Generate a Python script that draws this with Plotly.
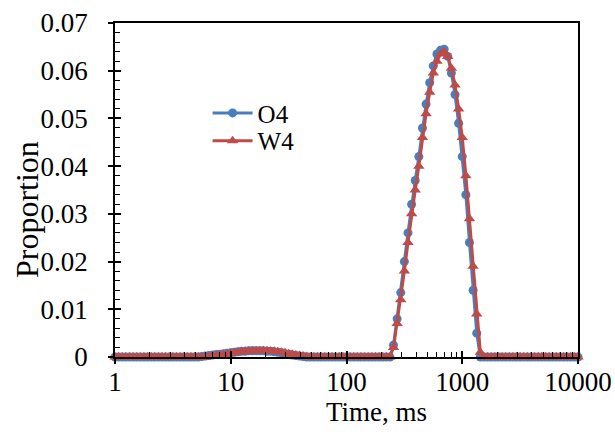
import plotly.graph_objects as go

# Time grid (ms), log-spaced
time_ms = [
    1, 1.075, 1.155, 1.241, 1.334, 1.433, 1.540, 1.655, 1.778, 1.911, 2.054, 2.207, 2.371, 2.548, 2.738, 2.943,
    3.162, 3.398, 3.652, 3.924, 4.217, 4.532, 4.870, 5.233, 5.623, 6.043, 6.494, 6.978, 7.499, 8.058, 8.660, 9.306,
    10, 10.75, 11.55, 12.41, 13.34, 14.33, 15.40, 16.55, 17.78, 19.11, 20.54, 22.07, 23.71, 25.48, 27.38, 29.43,
    31.62, 33.98, 36.52, 39.24, 42.17, 45.32, 48.70, 52.33, 56.23, 60.43, 64.94, 69.78, 74.99, 80.58, 86.60, 93.06,
    100, 107.5, 115.5, 124.1, 133.4, 143.3, 154.0, 165.5, 177.8, 191.1, 205.4, 220.7, 237.1, 254.8, 273.8, 294.3,
    316.2, 339.8, 365.2, 392.4, 421.7, 453.2, 487.0, 523.3, 562.3, 604.3, 649.4, 697.8, 749.9, 805.8, 866.0, 930.6,
    1000, 1075, 1155, 1241, 1334, 1433, 1540, 1655, 1778, 1911, 2054, 2207, 2371, 2548, 2738, 2943,
    3162, 3398, 3652, 3924, 4217, 4532, 4870, 5233, 5623, 6043, 6494, 6978, 7499, 8058, 8660, 9306,
    10000,
]

o4 = [
    0, 0, 0, 0, 0, 0, 0, 0, 0, 0, 0, 0, 0, 0, 0, 0,
    0, 0, 0, 0, 0, 0, 0, 0, 0.0001, 0.0002, 0.0003, 0.0004, 0.0005, 0.0006, 0.0007, 0.0008,
    0.0009, 0.0010, 0.0011, 0.0012, 0.0012, 0.0013, 0.0013, 0.0013, 0.0013, 0.0013, 0.0012, 0.0012, 0.0011, 0.0010, 0.0009, 0.0007,
    0.0006, 0.0004, 0.0003, 0.0002, 0.0001, 0, 0, 0, 0, 0, 0, 0, 0, 0, 0, 0,
    0, 0, 0, 0, 0, 0, 0, 0, 0, 0, 0, 0, 0, 0.0025, 0.008, 0.0135,
    0.020, 0.026, 0.032, 0.037, 0.042, 0.048, 0.053, 0.0575, 0.061, 0.0635, 0.0643, 0.0645, 0.063, 0.0595, 0.055, 0.049,
    0.042, 0.034, 0.024, 0.014, 0.005, 0, 0, 0, 0, 0, 0, 0, 0, 0, 0, 0,
    0, 0, 0, 0, 0, 0, 0, 0, 0, 0, 0, 0, 0, 0, 0, 0,
    0,
]

w4 = [
    0, 0, 0, 0, 0, 0, 0, 0, 0, 0, 0, 0, 0, 0, 0, 0,
    0, 0, 0, 0, 0, 0, 0, 0, 0, 0, 0.0001, 0.0002, 0.0003, 0.0004, 0.0005, 0.0006,
    0.0008, 0.0009, 0.0010, 0.0011, 0.0012, 0.0012, 0.0013, 0.0013, 0.0013, 0.0013, 0.0013, 0.0012, 0.0012, 0.0011, 0.0010, 0.0009,
    0.0007, 0.0006, 0.0004, 0.0003, 0.0002, 0.0001, 0, 0, 0, 0, 0, 0, 0, 0, 0, 0,
    0, 0, 0, 0, 0, 0, 0, 0, 0, 0, 0, 0, 0, 0.002, 0.007, 0.012,
    0.018, 0.024, 0.030, 0.035, 0.040, 0.046, 0.051, 0.0555, 0.0595, 0.062, 0.0635, 0.064, 0.063, 0.0605, 0.057, 0.052,
    0.046, 0.038, 0.029, 0.019, 0.009, 0.001, 0, 0, 0, 0, 0, 0, 0, 0, 0, 0,
    0, 0, 0, 0, 0, 0, 0, 0, 0, 0, 0, 0, 0, 0, 0, 0,
    0,
]

series_names = ["O4", "W4"]
x_tick_vals = [1, 10, 100, 1000, 10000]
x_tick_text = ["1", "10", "100", "1000", "10000"]
y_range = [0, 0.07]

BLUE = "#4A7EBB"
RED = "#BE4B48"
FONT = "Liberation Serif"
FS = 27

fig = go.Figure()
fig.add_trace(go.Scatter(
    x=time_ms, y=o4, name=series_names[0], mode="lines+markers",
    line=dict(color=BLUE, width=3), marker=dict(symbol="circle", size=9, color=BLUE),
    cliponaxis=False, legend="legend",
))
fig.add_trace(go.Scatter(
    x=time_ms, y=w4, name=series_names[1], mode="lines+markers",
    line=dict(color=RED, width=3), marker=dict(symbol="triangle-up", size=10, color=RED),
    cliponaxis=False, legend="legend2",
))
# invisible trace on overlay axes (outer half of the crossing major ticks)
fig.add_trace(go.Scatter(x=[1], y=[0], xaxis="x2", yaxis="y2", mode="markers",
                         marker=dict(opacity=0), showlegend=False, hoverinfo="skip"))

leg_common = dict(xanchor="left", yanchor="middle", bgcolor="rgba(0,0,0,0)",
                  font=dict(family=FONT, size=25), itemwidth=40)

fig.update_layout(
    width=615, height=432,
    margin=dict(l=115, r=37, t=23, b=75, autoexpand=False),
    paper_bgcolor="white", plot_bgcolor="white",
    font=dict(family=FONT, size=FS, color="black"),
    showlegend=True,
    legend=dict(x=0.2, y=0.73, **leg_common),
    legend2=dict(x=0.2, y=0.647, **leg_common),
    xaxis=dict(
        type="log", range=[0, 4], tickvals=x_tick_vals, ticktext=x_tick_text,
        ticks="inside", ticklen=6, tickwidth=1.5, tickcolor="black",
        showline=True, linecolor="black", linewidth=1.5, mirror=True,
        showgrid=False, zeroline=False, automargin=False,
        minor=dict(ticks="inside", ticklen=5, tickwidth=1.2, tickcolor="black",
                   dtick="D1", showgrid=False),
        tickfont=dict(family=FONT, size=FS), ticklabelstandoff=0,
    ),
    yaxis=dict(
        range=y_range, dtick=0.01,
        ticks="inside", ticklen=6, tickwidth=1.5, tickcolor="black",
        showline=True, linecolor="black", linewidth=1.5, mirror=True,
        showgrid=False, zeroline=False, automargin=False,
        minor=dict(ticks="inside", ticklen=5, tickwidth=1.2, tickcolor="black",
                   dtick=0.002, showgrid=False),
        tickfont=dict(family=FONT, size=FS), ticklabelstandoff=20,
    ),
    xaxis2=dict(
        type="log", range=[0, 4], overlaying="x", anchor="y", side="bottom",
        tickvals=x_tick_vals, ticks="outside", ticklen=6, tickwidth=1.5, tickcolor="black",
        showticklabels=False, showline=False, showgrid=False, zeroline=False, automargin=False,
    ),
    yaxis2=dict(
        range=y_range, dtick=0.01, overlaying="y", anchor="x", side="left",
        ticks="outside", ticklen=6, tickwidth=1.5, tickcolor="black",
        showticklabels=False, showline=False, showgrid=False, zeroline=False, automargin=False,
    ),
    annotations=[
        dict(text="Time, ms", xref="paper", yref="paper", x=0.564, y=-0.165,
             xanchor="center", yanchor="middle", showarrow=False,
             font=dict(family=FONT, size=FS)),
        dict(text="Proportion", xref="paper", yref="paper", x=-0.19, y=0.44,
             xanchor="center", yanchor="middle", textangle=-90, showarrow=False,
             font=dict(family=FONT, size=32)),
    ],
)

fig.write_html("out.html", config=dict(displayModeBar=False),
               post_script="document.body.style.margin='0';document.body.style.overflow='hidden';")
